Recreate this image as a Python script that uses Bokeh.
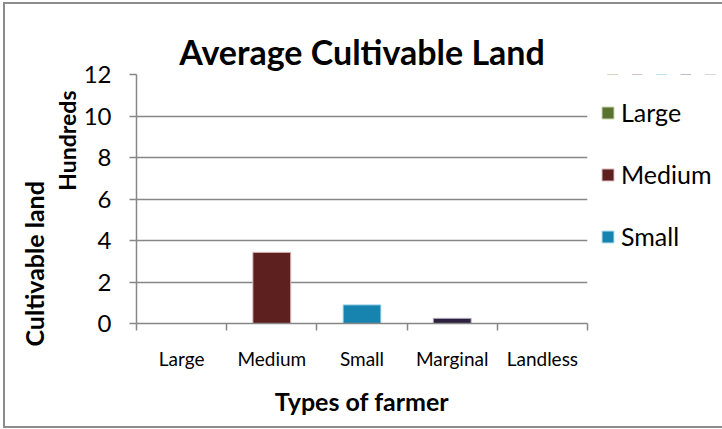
from bokeh.plotting import figure
from bokeh.layouts import row
from bokeh.models import (FactorRange, Range1d, LinearAxis, CategoricalAxis, FixedTicker,
                          Title, Legend, LegendItem, ColumnDataSource)
from bokeh.embed import file_html
from bokeh.resources import INLINE

# ---- data (values in hundreds) ----
categories = ["Large", "Medium", "Small", "Marginal", "Landless"]
values = [0.0, 3.43, 0.90, 0.25, 0.0]
bar_colors = ["#5A7230", "#5E201E", "#1784B0", "#2C2240", "#7F7F7F"]
edge_colors = ["#C9D6B0", "#D9BDBD", "#B9E1F0", "#B8B2C4", "#D0D0D0"]
legend_labels = ["Large", "Medium", "Small"]
y_ticks = [0, 2, 4, 6, 8, 10, 12]
title_text = "Average Cultivable Land"
y_title = "Cultivable land"
y_units_title = "Hundreds"
x_title = "Types of farmer"

FONT = "Lato"
GRID = "#878787"

source = ColumnDataSource(dict(cat=categories, val=values, color=bar_colors, edge=edge_colors))

# content starts at (5, 4) because of the chart-area border drawn around the row
OX, OY = 5, 4
H = 426 - OY
p = figure(width=600 - OX, height=H, output_backend="svg", toolbar_location=None,
           x_range=FactorRange(factors=categories, range_padding=0),
           y_range=Range1d(0, 12),
           x_axis_location=None, y_axis_location="left",
           min_border_left=136 - OX, min_border_right=600 - 587,
           min_border_top=74 - OY, min_border_bottom=426 - 329)
p.outline_line_color = None
p.background_fill_color = "white"
p.border_fill_color = "white"

# grid
p.xgrid.grid_line_color = None
p.ygrid.ticker = FixedTicker(ticks=y_ticks)
p.ygrid.grid_line_color = GRID
p.ygrid.grid_line_width = 1.5

# y axis
p.yaxis.ticker = FixedTicker(ticks=y_ticks)
p.yaxis.major_tick_out = 7
p.yaxis.major_tick_in = 0
p.yaxis.minor_tick_line_color = None
p.yaxis.axis_line_color = GRID
p.yaxis.axis_line_width = 1.5
p.yaxis.major_tick_line_color = GRID
p.yaxis.major_tick_line_width = 1.5
p.yaxis.major_label_text_font = FONT
p.yaxis.major_label_text_font_size = "24px"
p.yaxis.major_label_text_color = "black"
p.yaxis.major_label_standoff = 18

# x axis: boundary ticks (synthetic category coordinates) + category labels
bounds = list(range(len(categories) + 1))
tick_axis = LinearAxis(ticker=FixedTicker(ticks=bounds),
                       major_label_overrides={b: "" for b in bounds},
                       major_label_standoff=0,
                       major_tick_out=7, major_tick_in=0,
                       minor_tick_line_color=None,
                       axis_line_color=GRID, axis_line_width=1.5,
                       major_tick_line_color=GRID, major_tick_line_width=1.5)
p.add_layout(tick_axis, "below")
cat_axis = CategoricalAxis(major_tick_out=0, major_tick_in=0, axis_line_color=None,
                           major_tick_line_color=None,
                           major_label_text_font=FONT, major_label_text_font_size="19px",
                           major_label_text_color="black", major_label_standoff=16)
p.add_layout(cat_axis, "below")

# bars
p.vbar(x="cat", top="val", width=0.42, source=source,
       fill_color="color", line_color="edge", line_width=1)

# titles
p.add_layout(Title(text=title_text, align="center", offset=4, standoff=6,
                   text_font=FONT, text_font_style="bold", text_font_size="34px",
                   text_color="black"), "above")
p.add_layout(Title(text=y_units_title, align="right", offset=16, standoff=0,
                   text_font=FONT, text_font_style="bold", text_font_size="23px",
                   text_color="black"), "left")
p.add_layout(Title(text=y_title, align="left", offset=-23, standoff=3,
                   text_font=FONT, text_font_style="bold", text_font_size="25px",
                   text_color="black"), "left")
p.add_layout(Title(text=x_title, align="center", offset=4, standoff=22,
                   text_font=FONT, text_font_style="bold", text_font_size="25px",
                   text_color="black"), "below")

# legend lives in its own narrow figure to the right (its bars sit outside its y-range)
lf = figure(width=722 - 600, height=H, output_backend="svg", toolbar_location=None,
            x_range=FactorRange(factors=categories), y_range=Range1d(-20, -10),
            x_axis_location=None, y_axis_location=None,
            min_border_left=0, min_border_right=0, min_border_top=0, min_border_bottom=0)
lf.outline_line_color = None
lf.grid.visible = False
lf.border_fill_color = "white"
lr = lf.vbar(x="cat", top="val", width=0.42, source=source,
             fill_color="color", line_color="edge", line_width=1)
legend = Legend(items=[LegendItem(label=lab, renderers=[lr], index=i)
                       for i, lab in enumerate(legend_labels)],
                location=(0, 58), orientation="vertical",
                glyph_width=15, glyph_height=15, label_standoff=6,
                label_text_font=FONT, label_text_font_size="25px", label_text_color="black",
                label_height=58, spacing=4, padding=0, margin=0,
                border_line_color=None, background_fill_alpha=0)
lf.add_layout(legend, "center")

layout = row(p, lf, spacing=0)
layout.styles = {"margin-left": "3px", "margin-top": "2px",
                 "border-left": "2px solid #8C8C8C", "border-top": "2px solid #8C8C8C",
                 "border-bottom": "2px solid #8C8C8C"}

open("out.html", "w").write(file_html(layout, INLINE))
